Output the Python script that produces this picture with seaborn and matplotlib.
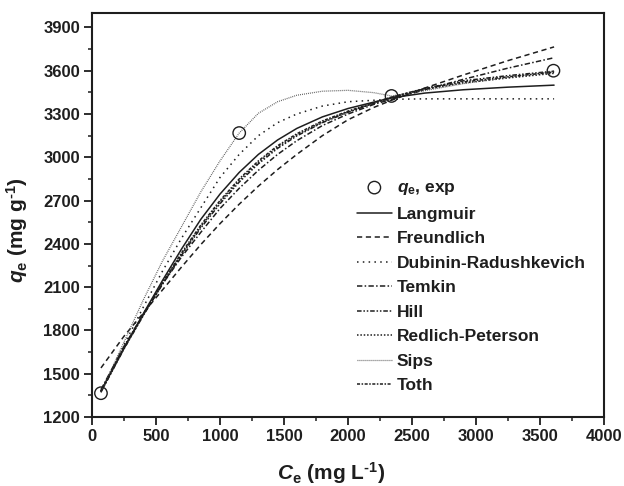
import matplotlib
matplotlib.use("Agg")
import matplotlib.pyplot as plt
from matplotlib.ticker import MultipleLocator
import seaborn as sns
import pandas as pd

# Equilibrium concentration grid (mg/L) for the fitted isotherm curves
ce_fit = [70, 250, 400, 550, 700, 850, 1000, 1150, 1300, 1450, 1600, 1800,
          2000, 2200, 2340, 2600, 2900, 3250, 3610]

langmuir = [1380, 1680, 1915, 2145, 2365, 2570, 2745, 2895, 3020, 3120, 3200, 3280,
            3338, 3382, 3412, 3445, 3468, 3486, 3500]
freundlich = [1540, 1760, 1920, 2080, 2240, 2395, 2540, 2675, 2800, 2915, 3020, 3150,
              3260, 3345, 3395, 3480, 3570, 3670, 3765]
dubinin = [1380, 1700, 1960, 2210, 2440, 2650, 2860, 3020, 3150, 3240, 3300, 3355,
           3385, 3395, 3402, 3405, 3405, 3405, 3405]
temkin = [1390, 1690, 1910, 2120, 2310, 2480, 2645, 2785, 2910, 3020, 3115, 3220,
          3300, 3366, 3402, 3468, 3540, 3618, 3690]
hill = [1372, 1672, 1902, 2120, 2322, 2510, 2678, 2828, 2955, 3062, 3148, 3240,
        3312, 3373, 3416, 3478, 3530, 3566, 3597]
redlich = [1375, 1675, 1905, 2125, 2330, 2520, 2690, 2840, 2965, 3070, 3155, 3245,
           3315, 3375, 3415, 3470, 3515, 3550, 3582]
sips = [1370, 1720, 2010, 2280, 2520, 2760, 2975, 3168, 3305, 3385, 3430, 3458,
        3464, 3448, 3425, 3462, 3510, 3555, 3595]
toth = [1378, 1678, 1908, 2130, 2338, 2530, 2700, 2850, 2975, 3080, 3163, 3252,
        3320, 3378, 3417, 3475, 3522, 3558, 3590]

# Experimental equilibrium data
ce_exp = [70, 1150, 2340, 3605]
qe_exp = [1365, 3168, 3425, 3600]

model_names = ["Langmuir", "Freundlich", "Dubinin-Radushkevich", "Temkin",
               "Hill", "Redlich-Peterson", "Sips", "Toth"]

sns.set_theme(style="ticks")
plt.rcParams["font.family"] = ["Liberation Sans", "DejaVu Sans"]
plt.rcParams["font.weight"] = "bold"
plt.rcParams["mathtext.fontset"] = "custom"
plt.rcParams["mathtext.rm"] = "Liberation Sans:bold"
plt.rcParams["mathtext.bf"] = "Liberation Sans:bold"
plt.rcParams["mathtext.it"] = "Liberation Sans:bold:italic"
plt.rcParams["mathtext.default"] = "rm"

ink = "#1e1e1e"

fig = plt.figure(figsize=(6.24, 4.86), dpi=100)
ax = fig.add_axes([92 / 624, 1 - 417 / 486, 512 / 624, 404 / 486])

fits = pd.DataFrame({"Ce": ce_fit, "Langmuir": langmuir, "Freundlich": freundlich,
                     "Dubinin-Radushkevich": dubinin, "Temkin": temkin, "Hill": hill,
                     "Redlich-Peterson": redlich, "Sips": sips, "Toth": toth})

styles = {
    "Langmuir": dict(linestyle="-", color=ink, lw=1.1),
    "Freundlich": dict(linestyle=(0, (3.4, 2.4)), color=ink, lw=1.1),
    "Dubinin-Radushkevich": dict(linestyle=(0, (1.0, 2.8)), color=ink, lw=1.1),
    "Temkin": dict(linestyle=(0, (3.5, 1.5, 1.0, 1.5)), color=ink, lw=1.1),
    "Hill": dict(linestyle=(0, (3.0, 1.2, 1.0, 1.2, 1.0, 1.2)), color=ink, lw=1.1),
    "Redlich-Peterson": dict(linestyle=(0, (1.0, 1.2)), color=ink, lw=1.1),
    "Sips": dict(linestyle=(0, (0.7, 0.9)), color="#555555", lw=0.9),
    "Toth": dict(linestyle=(0, (2.0, 1.0, 1.0, 1.0)), color=ink, lw=1.1),
}

sns.scatterplot(x=ce_exp, y=qe_exp, ax=ax, marker="o", s=80, facecolor="none",
                edgecolor=ink, linewidth=1.0, label=r"$\mathit{q}_{\mathrm{e}}$, exp", zorder=5)

for name in model_names:
    sns.lineplot(data=fits, x="Ce", y=name, ax=ax, sort=False, estimator=None,
                 label=name, **styles[name])

ax.set_xlim(0, 4000)
ax.set_ylim(1200, 4000)
ax.xaxis.set_major_locator(MultipleLocator(500))
ax.xaxis.set_minor_locator(MultipleLocator(250))
ax.set_yticks(range(1200, 4000, 300))
ax.yaxis.set_minor_locator(MultipleLocator(150))

ax.tick_params(axis="both", which="major", direction="out", length=5.5, width=1.3,
               labelsize=12, pad=3, colors=ink)
ax.tick_params(axis="both", which="minor", direction="out", length=3, width=1.1, colors=ink)
for lbl in ax.get_xticklabels() + ax.get_yticklabels():
    lbl.set_fontweight("bold")

for sp in ax.spines.values():
    sp.set_visible(True)
    sp.set_linewidth(1.5)
    sp.set_color(ink)

ax.set_xlabel("")
ax.set_ylabel("")
fig.text(331 / 624, 6 / 486, r"$\mathit{C}_{\mathrm{e}}$ (mg L$^{\text{-1}}$)",
         ha="center", va="baseline", fontsize=15, fontweight="bold", color=ink)
fig.text(30 / 624, 1 - 230 / 486, r"$\mathit{q}_{\mathrm{e}}$ (mg g$^{\text{-1}}$)",
         ha="right", va="center", rotation=90, fontsize=15, fontweight="bold", color=ink)

leg = ax.legend(loc="upper left", bbox_to_anchor=(357 / 624, 1 - 180 / 486),
                bbox_transform=fig.transFigure, frameon=False, fontsize=12.5,
                handlelength=2.0, handletextpad=0.3, labelspacing=0.54,
                borderpad=0, borderaxespad=0)
for t in leg.get_texts():
    t.set_color(ink)

fig.savefig("out.png", dpi=100)
